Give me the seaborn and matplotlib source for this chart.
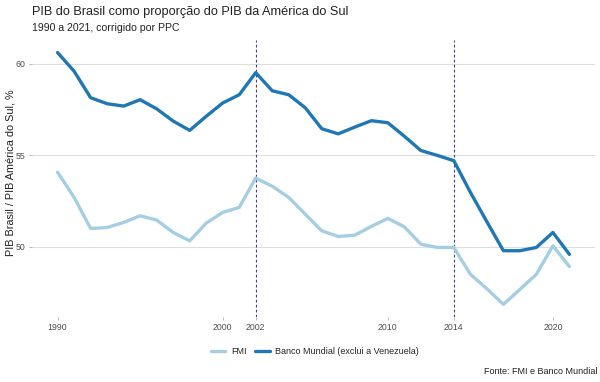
import matplotlib
matplotlib.use("Agg")
import matplotlib.pyplot as plt
import pandas as pd
import seaborn as sns

# data
anos = list(range(1990, 2022))
fmi = [54.07, 52.69, 50.99, 51.04, 51.32, 51.68, 51.45, 50.77, 50.31, 51.28,
       51.87, 52.14, 53.75, 53.30, 52.69, 51.77, 50.86, 50.55, 50.62, 51.10,
       51.54, 51.08, 50.13, 49.95, 49.95, 48.48, 47.69, 46.83, 47.65, 48.48,
       50.04, 48.90]
banco_mundial = [60.62, 59.60, 58.15, 57.82, 57.69, 58.04, 57.54, 56.87, 56.36, 57.13,
                 57.86, 58.31, 59.52, 58.53, 58.31, 57.60, 56.45, 56.17, 56.54, 56.89,
                 56.78, 56.04, 55.26, 54.99, 54.70, 52.97, 51.36, 49.77, 49.77, 49.95,
                 50.77, 49.57]
series = ["FMI", "Banco Mundial (exclui a Venezuela)"]
anos_marcados = [2002, 2014]
xticks = [1990, 2000, 2002, 2010, 2014, 2020]
yticks = [50, 55, 60]

df = pd.DataFrame({
    "ano": anos * 2,
    "valor": fmi + banco_mundial,
    "fonte": [series[0]] * len(anos) + [series[1]] * len(anos),
})

sns.set_theme(style="white")
plt.rcParams["font.family"] = ["Liberation Sans", "DejaVu Sans"]

cores = ["#a6cee3", "#1f78b4"]

fig, ax = plt.subplots(figsize=(6, 3.82), dpi=100)
fig.subplots_adjust(left=32/600, right=595/600, top=1-40/382, bottom=1-317/382)

ax.grid(axis="y", color="#dedede", linewidth=0.8)
ax.set_axisbelow(True)
for a in anos_marcados:
    ax.axvline(a, color="#483d8b", linestyle=(0, (2.5, 2)), linewidth=0.8, zorder=1)

sns.lineplot(data=df, x="ano", y="valor", hue="fonte", hue_order=series,
             palette=cores, linewidth=2.4, ax=ax, legend=False, zorder=3)

vals = fmi + banco_mundial
lo, hi = min(vals), max(vals)
pad = (hi - lo) * 0.05
ax.set_ylim(lo - pad, hi + pad)
ax.set_xlim(1990 - 31 * 0.05, 2021 + 31 * 0.05)
ax.set_xticks(xticks)
ax.set_yticks(yticks)
ax.tick_params(axis="both", length=2.5, width=0.6, color="#b0b0b0", pad=2,
               labelsize=6.3, labelcolor="#4d4d4d", bottom=True, left=True)
for s in ax.spines.values():
    s.set_visible(False)
ax.set_xlabel("")
ax.set_ylabel("PIB Brasil / PIB América do Sul, %", fontsize=7.8, color="#222222")
ax.yaxis.set_label_coords(-0.03, 0.52)

fig.text(32/600, 1-12.5/382, "PIB do Brasil como proporção do PIB da América do Sul",
         fontsize=9.2, color="#222222", va="center", ha="left")
fig.text(32/600, 1-28/382, "1990 a 2021, corrigido por PPC",
         fontsize=7.6, color="#222222", va="center", ha="left")
fig.text(597/600, 1-372/382, "Fonte: FMI e Banco Mundial",
         fontsize=6.5, color="#222222", va="center", ha="right")

handles = [plt.Line2D([], [], color=c, linewidth=2.4) for c in cores]
fig.legend(handles, series, loc="center", bbox_to_anchor=(0.525, 1-352/382),
           ncol=2, frameon=False, fontsize=6.5, handlelength=1.6,
           columnspacing=1.0, handletextpad=0.6)

fig.savefig("out.png", dpi=100)
